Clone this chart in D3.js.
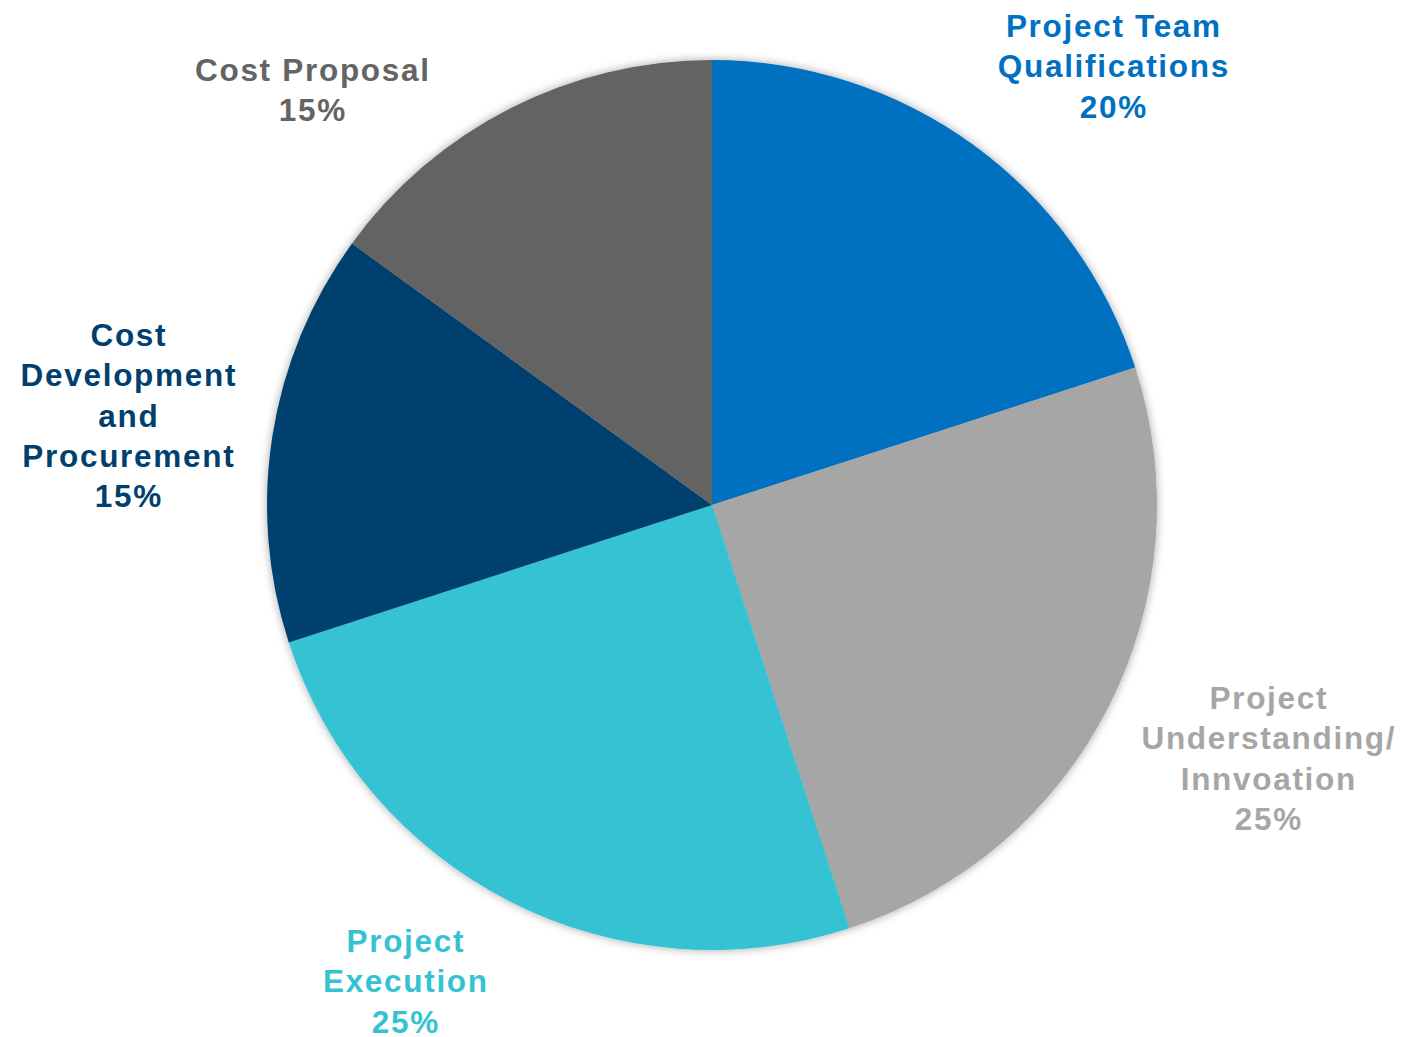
<!DOCTYPE html>
<html>
<head>
<meta charset="utf-8">
<script src="https://cdn.jsdelivr.net/npm/d3@7"></script>
<style>
  html, body { margin: 0; padding: 0; background: #ffffff; }
  svg { display: block; }
</style>
</head>
<body>
<svg id="chart" width="1407" height="1037"></svg>
<script>
const categories = ["Project Team Qualifications", "Project Understanding/ Innvoation", "Project Execution", "Cost Development and Procurement", "Cost Proposal"];
const values = [20, 25, 25, 15, 15];
const labelLines = [
  ["Project Team", "Qualifications", "20%"],
  ["Project", "Understanding/", "Innvoation", "25%"],
  ["Project", "Execution", "25%"],
  ["Cost", "Development", "and", "Procurement", "15%"],
  ["Cost Proposal", "15%"]
];
const colors = ["#0070C0", "#A6A6A6", "#35C3D3", "#003F6E", "#646464"];
const labelAnchors = [[1113, 26], [1268, 698], [405, 941], [128, 335], [312, 70]];

const svg = d3.select("#chart");
const cx = 712, cy = 505, r = 445;

const defs = svg.append("defs");
const f = defs.append("filter").attr("id", "shadow").attr("x", "-10%").attr("y", "-10%").attr("width", "120%").attr("height", "120%");
f.append("feDropShadow").attr("dx", 0).attr("dy", 0).attr("stdDeviation", 5).attr("flood-color", "#000").attr("flood-opacity", 0.35);

const data = categories.map((c, i) => ({ name: c, value: values[i], color: colors[i], lines: labelLines[i], anchor: labelAnchors[i] }));

const pie = d3.pie().value(d => d.value).sort(null).startAngle(0).endAngle(2 * Math.PI);
const arc = d3.arc().innerRadius(0).outerRadius(r);

const g = svg.append("g").attr("transform", `translate(${cx},${cy})`).attr("filter", "url(#shadow)");
g.selectAll("path").data(pie(data)).join("path")
  .attr("d", arc)
  .attr("fill", d => d.data.color);

const lineH = 40.3;
const labels = svg.append("g");
data.forEach(d => {
  const t = labels.append("text")
    .attr("text-anchor", "middle")
    .attr("font-family", "'Liberation Sans', Arial, sans-serif")
    .attr("font-weight", "bold")
    .attr("font-size", 31.5)
    .attr("letter-spacing", 1.7)
    .attr("fill", d.color);
  d.lines.forEach((ln, i) => {
    t.append("tspan")
      .attr("x", d.anchor[0] + 0.85)
      .attr("y", d.anchor[1] + i * lineH)
      .attr("dy", "0.35em")
      .text(ln);
  });
});
</script>
</body>
</html>
